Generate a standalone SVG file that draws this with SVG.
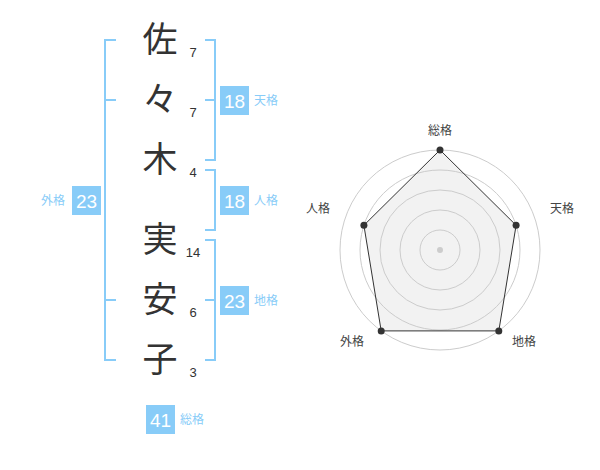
<svg xmlns="http://www.w3.org/2000/svg" width="600" height="470" viewBox="0 0 600 470">
<style>
.ch{font-family:"Noto Sans CJK JP","Noto Sans CJK SC",sans-serif;font-size:35px;fill:#333;text-anchor:middle}
.st{font-family:"Liberation Sans",Arial,sans-serif;font-size:13px;fill:#333;text-anchor:middle}
.br{fill:none;stroke:#88ccf8;stroke-width:2}
.box{fill:#88ccf8}
.bn{font-family:"Liberation Sans",Arial,sans-serif;font-size:19px;fill:#fff;text-anchor:middle}
.bl{font-family:"Noto Sans CJK JP","Noto Sans CJK SC",sans-serif;font-size:12px;fill:#88ccf8}
.rl{font-family:"Noto Sans CJK JP","Noto Sans CJK SC",sans-serif;font-size:12px;fill:#444;text-anchor:middle}
.ring{fill:none;stroke:#cccccc;stroke-width:1}
</style>
<rect width="600" height="470" fill="#fff"/>
<g id="chars">
<text class="ch" x="160" y="52">佐</text>
<text class="ch" x="160" y="112">々</text>
<text class="ch" x="160" y="172">木</text>
<text class="ch" x="160" y="252">実</text>
<text class="ch" x="160" y="312">安</text>
<text class="ch" x="160" y="372">子</text>
<text class="st" x="193" y="57">7</text>
<text class="st" x="193" y="117">7</text>
<text class="st" x="193" y="177">4</text>
<text class="st" x="193" y="257">14</text>
<text class="st" x="193" y="317">6</text>
<text class="st" x="193" y="377">3</text>
</g>
<g id="connectors">
<path class="br" d="M116,40H105V360H116M105,100H116M105,300H116"/>
<path class="br" d="M205,40H215V160H205M205,100H215"/>
<path class="br" d="M205,170H215V230H205"/>
<path class="br" d="M205,240H215V360H205M205,300H215"/>
</g>
<g id="tenkaku">
<rect class="box" x="220" y="86" width="29" height="29"/>
<text class="bn" x="234.5" y="107.5">18</text>
<text class="bl" x="254" y="105">天格</text>
</g>
<g id="jinkaku">
<rect class="box" x="220" y="186" width="29" height="29"/>
<text class="bn" x="234.5" y="207.5">18</text>
<text class="bl" x="254" y="205">人格</text>
</g>
<g id="chikaku">
<rect class="box" x="220" y="286" width="29" height="29"/>
<text class="bn" x="234.5" y="307.5">23</text>
<text class="bl" x="254" y="305">地格</text>
</g>
<g id="gaikaku">
<rect class="box" x="72" y="186" width="29" height="29"/>
<text class="bn" x="86.5" y="207.5">23</text>
<text class="bl" x="41" y="205">外格</text>
</g>
<g id="soukaku">
<rect class="box" x="146" y="405" width="29" height="29"/>
<text class="bn" x="160.5" y="426.5">41</text>
<text class="bl" x="180" y="424">総格</text>
</g>
<g id="radar">
<polygon points="440,150 516.1,225.3 498.8,330.9 381.2,330.9 363.9,225.3" fill="#f2f2f2" stroke="none"/>
<circle class="ring" cx="440" cy="250" r="20"/>
<circle class="ring" cx="440" cy="250" r="40"/>
<circle class="ring" cx="440" cy="250" r="60"/>
<circle class="ring" cx="440" cy="250" r="80"/>
<circle class="ring" cx="440" cy="250" r="100"/>
<circle cx="440" cy="250" r="3" fill="#cccccc"/>
<polygon points="440,150 516.1,225.3 498.8,330.9 381.2,330.9 363.9,225.3" fill="none" stroke="#333" stroke-width="1"/>
<g fill="#333">
<circle cx="440" cy="150" r="3.5"/>
<circle cx="516.1" cy="225.3" r="3.5"/>
<circle cx="498.8" cy="330.9" r="3.5"/>
<circle cx="381.2" cy="330.9" r="3.5"/>
<circle cx="363.9" cy="225.3" r="3.5"/>
</g>
<text class="rl" x="440" y="135">総格</text>
<text class="rl" x="562" y="213">天格</text>
<text class="rl" x="524" y="346">地格</text>
<text class="rl" x="352" y="346">外格</text>
<text class="rl" x="318" y="213">人格</text>
</g>
</svg>
